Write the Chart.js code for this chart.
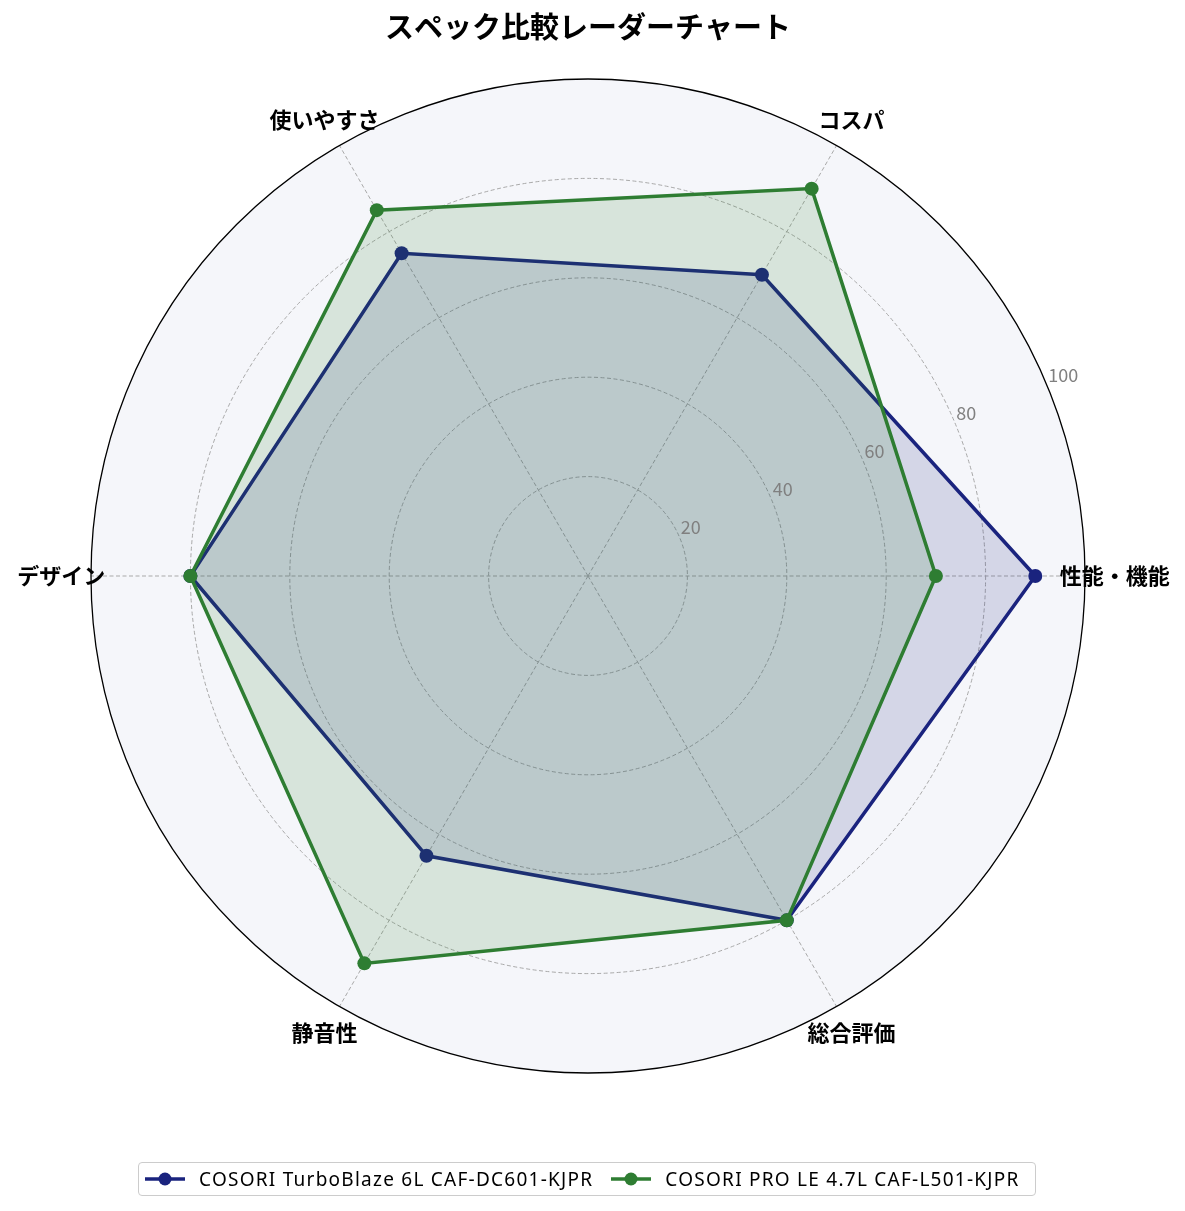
<!DOCTYPE html>
<html>
<head>
<meta charset="utf-8">
<script src="https://cdn.jsdelivr.net/npm/chart.js@4.4.1/dist/chart.umd.min.js"></script>
<style>
  html, body { margin: 0; padding: 0; background: #ffffff; }
  #wrap { position: relative; width: 1185px; height: 1211px; }
  #c { display: block; }
  #legend {
    position: absolute; left: 138px; top: 1162px; width: 896px; height: 32px;
    border: 1px solid #cccccc; border-radius: 4px; background: rgba(255,255,255,0.8);
    display: flex; align-items: center; box-sizing: content-box;
    font-family: "Noto Sans", "Noto Sans CJK JP", sans-serif; font-size: 19px; letter-spacing: 1.25px; color: #000;
  }
  .item { display: flex; align-items: center; margin-left: 5px; margin-right: 12px; white-space: nowrap; }
  .item svg { margin-right: 13px; }
</style>
</head>
<body>
<div id="wrap">
  <canvas id="c" width="1185" height="1211"></canvas>
  <div id="legend"></div>
</div>
<script>
// ---- data (listed clockwise from the right-hand axis) ----
const categories = ["性能・機能", "総合評価", "静音性", "デザイン", "使いやすさ", "コスパ"];
const seriesNames = ["COSORI TurboBlaze 6L CAF-DC601-KJPR", "COSORI PRO LE 4.7L CAF-L501-KJPR"];
const turboBlaze = [90, 80, 65, 80, 75, 70];
const proLE = [70, 80, 90, 80, 85, 90];
const tickValues = [20, 40, 60, 80, 100];
const chartTitle = "スペック比較レーダーチャート";

const colors = ["#1a237e", "#2e7d32"];
const fills = ["rgba(26,35,126,0.15)", "rgba(46,125,50,0.15)"];
const JP = '"Noto Sans CJK JP", "Noto Sans", sans-serif';

const radarDeco = {
  id: 'radarDeco',
  beforeDraw(chart) {
    const s = chart.scales.r, ctx = chart.ctx;
    ctx.save();
    ctx.beginPath();
    ctx.arc(s.xCenter, s.yCenter, s.drawingArea, 0, Math.PI * 2);
    ctx.fillStyle = '#f5f6fa';
    ctx.fill();
    ctx.restore();
  },
  afterDatasetsDraw(chart) {
    const s = chart.scales.r, ctx = chart.ctx;
    ctx.save();
    // outer circle
    ctx.beginPath();
    ctx.arc(s.xCenter, s.yCenter, s.getDistanceFromCenterForValue(100), 0, Math.PI * 2);
    ctx.strokeStyle = '#000000';
    ctx.lineWidth = 1.3;
    ctx.setLineDash([]);
    ctx.stroke();
    // radial tick labels at 22.5 degrees
    const a = 22.5 * Math.PI / 180;
    ctx.font = '18px ' + JP;
    ctx.fillStyle = '#808080';
    ctx.textAlign = 'left';
    ctx.textBaseline = 'alphabetic';
    tickValues.forEach(v => {
      const d = s.getDistanceFromCenterForValue(v);
      ctx.fillText(String(v), s.xCenter + d * Math.cos(a) + 1, s.yCenter - d * Math.sin(a) - 4);
    });
    // category labels
    ctx.font = 'bold 22px ' + JP;
    ctx.fillStyle = '#000000';
    ctx.textAlign = 'center';
    ctx.textBaseline = 'middle';
    const labelDist = s.getDistanceFromCenterForValue(106);
    categories.forEach((lab, i) => {
      const p = s.getPointPosition(i, labelDist);
      ctx.fillText(lab, p.x, p.y);
    });
    ctx.restore();
  }
};

const datasets = [turboBlaze, proLE].map((vals, k) => ({
  label: seriesNames[k],
  data: vals,
  borderColor: colors[k],
  backgroundColor: fills[k],
  pointBackgroundColor: colors[k],
  pointBorderColor: colors[k],
  pointBorderWidth: 0,
  pointRadius: 7,
  pointHoverRadius: 7,
  borderWidth: 3.5,
  fill: true,
  order: 1 - k
}));

const chart = new Chart(document.getElementById('c'), {
  type: 'radar',
  data: { labels: categories, datasets },
  options: {
    responsive: false,
    animation: false,
    devicePixelRatio: 1,
    layout: { padding: { left: 91, right: 100, top: 0, bottom: 138 } },
    elements: { line: { tension: 0 } },
    plugins: {
      legend: { display: false },
      tooltip: { enabled: false },
      title: {
        display: true,
        text: chartTitle,
        color: '#000',
        font: { family: JP, size: 29, weight: 'bold', lineHeight: 1.2 },
        padding: { top: 9.6, bottom: 34.6 }
      }
    },
    scales: {
      r: {
        min: 0, max: 100,
        startAngle: 90,
        ticks: { display: false, stepSize: 20 },
        pointLabels: { display: false },
        grid: {
          circular: true,
          color: ctx => (ctx.tick && ctx.tick.value >= 100) ? 'rgba(0,0,0,0)' : '#a9a9a9',
          lineWidth: 1
        },
        border: { dash: [4, 2.5] },
        angleLines: { color: '#a9a9a9', lineWidth: 1, borderDash: [4, 2.5] }
      }
    }
  },
  plugins: [radarDeco]
});

// HTML legend built from the datasets
const leg = document.getElementById('legend');
chart.data.datasets.forEach((ds, k) => {
  const it = document.createElement('div');
  it.className = 'item';
  it.innerHTML = '<svg width="42" height="16"><line x1="1" y1="8" x2="41" y2="8" stroke="' + ds.borderColor +
    '" stroke-width="3.5"/><circle cx="21" cy="8" r="6.5" fill="' + ds.borderColor + '"/></svg>';
  const t = document.createElement('span');
  t.textContent = ds.label;
  it.appendChild(t);
  leg.appendChild(it);
});
</script>
</body>
</html>
